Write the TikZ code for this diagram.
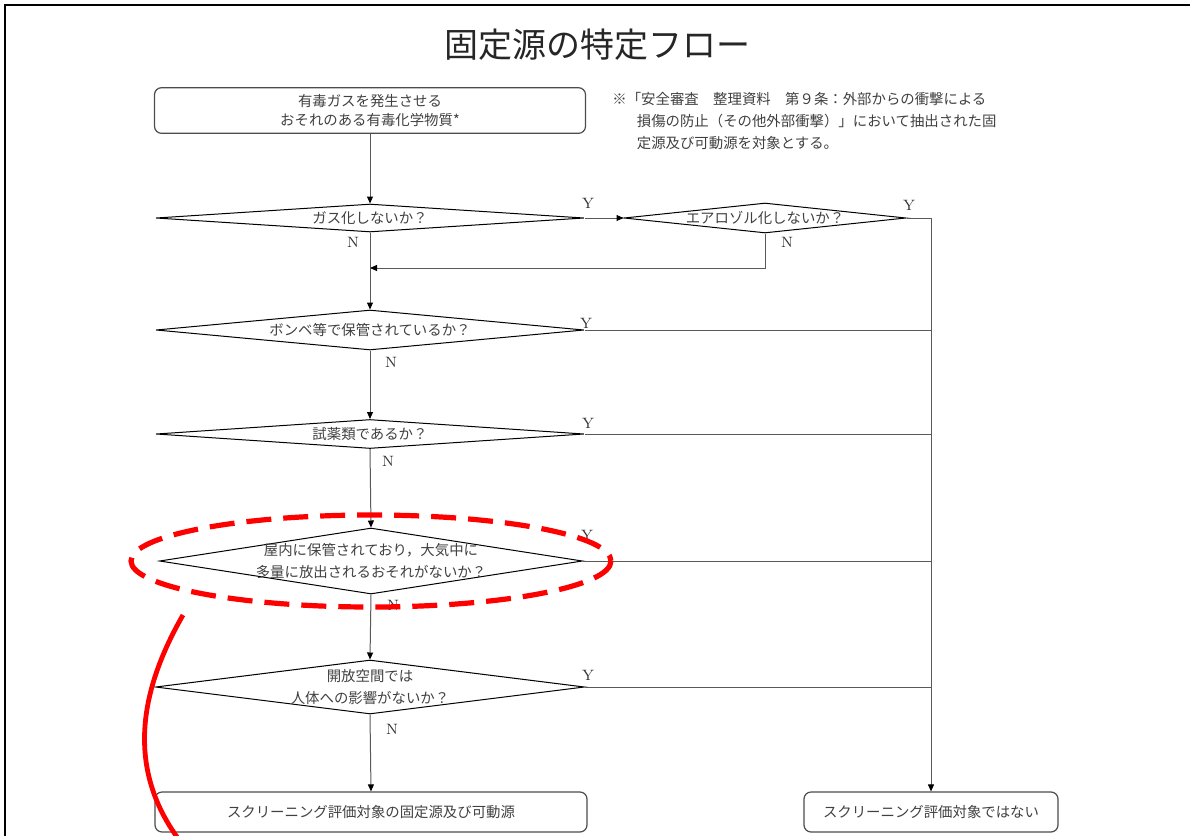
\documentclass[tikz,border=0pt]{standalone}
\usepackage{fontspec}
\newfontfamily\jpfont{Noto Sans CJK JP}
\usetikzlibrary{shapes.geometric,arrows.meta}

\tikzset{
  jptext/.style={font=\jpfont\fontsize{7.2}{11}\selectfont, text=black!75, align=center},
  box/.style={draw=black!70, line width=0.6pt, rounded corners=3.5pt, minimum height=20pt, jptext, font=\jpfont\fontsize{7.2}{9.5}\selectfont},
  dia/.style={diamond, draw, line width=0.5pt, inner sep=0pt},
  yn/.style={font=\fontsize{7.5}{9}\selectfont, text=black!80, inner sep=0pt},
  ln/.style={draw=black!65, line width=0.5pt},
  arr/.style={ln, -{Triangle[length=3.5pt,width=3pt,color=black]}},
}

\begin{document}
\begin{tikzpicture}[x=0.5pt, y=-0.5pt]

  \useasboundingbox (0,0) rectangle (1190,836);
  \clip (0,0) rectangle (1190,836);

  % frame
  \draw[line width=1.2pt] (5,836) -- (5,5) -- (1190,5);

  \node[font=\jpfont\fontsize{17}{20}\selectfont, text=black!85] (title) at (597,45) {固定源の特定フロー};

  \node[jptext, align=left, anchor=north west, inner sep=0pt] (note) at (612,92)
    {※「安全審査　整理資料　第９条：外部からの衝撃による\\
     \hspace*{1.7em}損傷の防止（その他外部衝撃）」において抽出された固\\
     \hspace*{1.7em}定源及び可動源を対象とする。};

  % boxes
  \node[box, minimum width=215.5pt] (start) at (370,110.5)
    {有毒ガスを発生させる\\おそれのある有毒化学物質*};
  \node[box, minimum width=216pt] (target) at (371,812)
    {スクリーニング評価対象の固定源及び可動源};
  \node[box, minimum width=127pt] (nontarget) at (931,812)
    {スクリーニング評価対象ではない};

  % decisions
  \node[dia, minimum width=214pt, minimum height=14pt,
        label={[jptext]center:ガス化しないか？}] (gas) at (370,218) {};
  \node[dia, minimum width=141pt, minimum height=15pt,
        label={[jptext]center:エアロゾル化しないか？}] (aerosol) at (765,218) {};
  \node[dia, minimum width=214pt, minimum height=20pt,
        label={[jptext]center:ボンベ等で保管されているか？}] (bombe) at (370,330) {};
  \node[dia, minimum width=214pt, minimum height=14.5pt,
        label={[jptext]center:試薬類であるか？}] (reagent) at (370,434) {};
  \node[dia, minimum width=211.5pt, minimum height=33pt,
        label={[jptext]center:屋内に保管されており，大気中に\\多量に放出されるおそれがないか？}] (indoor) at (371,561) {};
  \node[dia, minimum width=214.5pt, minimum height=27pt,
        label={[jptext]center:開放空間では\\人体への影響がないか？}] (open) at (370,687) {};

  \coordinate (join) at (370,268);

  % connectors
  \draw[arr] (start.south) -- (gas.north);
  \draw[arr] (gas.east) -- (aerosol.west);
  \draw[ln] (gas.south) -- (join);
  \draw[arr] (aerosol.south) |- (join);
  \draw[arr] (join) -- (bombe.north);
  \draw[arr] (bombe.south) -- (reagent.north);
  \draw[arr] (reagent.south) -- (indoor.north);
  \draw[arr] (indoor.south) -- (open.north);
  \draw[arr] (open.south) -- (target.north);

  \draw[arr] (aerosol.east) -| (nontarget.north);
  \draw[ln] (bombe.east) -- (bombe.east -| nontarget.north);
  \draw[ln] (reagent.east) -- (reagent.east -| nontarget.north);
  \draw[ln] (indoor.east) -- (indoor.east -| nontarget.north);
  \draw[ln] (open.east) -- (open.east -| nontarget.north);

  % Y / N
  \node[yn] (gasY) at (588,203) {Y};
  \node[yn] (gasN) at (353,242) {N};
  \node[yn] (aerosolY) at (909,205) {Y};
  \node[yn] (aerosolN) at (787,242) {N};
  \node[yn] (bombeY) at (586,323) {Y};
  \node[yn] (bombeN) at (391,362) {N};
  \node[yn] (reagentY) at (588,423) {Y};
  \node[yn] (reagentN) at (388,461) {N};
  \node[yn] (indoorY) at (587,535) {Y};
  \node[yn] (indoorN) at (393,605) {N};
  \node[yn] (openY) at (588,675) {Y};
  \node[yn] (openN) at (392,729) {N};

  % highlight
  \draw[red, line width=2.6pt, dash pattern=on 12.5pt off 6pt] (371,561) ellipse [x radius=240, y radius=46];
  \draw[red, line width=2.4pt] (183,615) .. controls (140,690) and (124,770) .. (183,845);

\end{tikzpicture}
\end{document}
